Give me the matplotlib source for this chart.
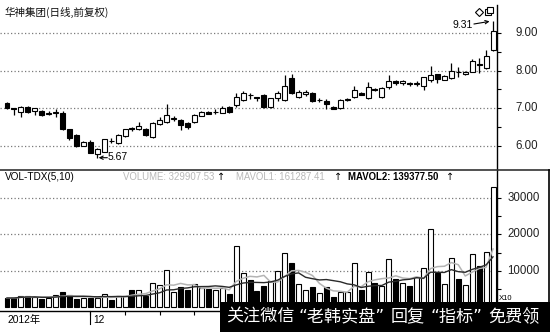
import matplotlib
matplotlib.use('Agg')
import matplotlib.pyplot as plt
import numpy as np
import pandas as pd
from matplotlib.lines import Line2D
from matplotlib.patches import Rectangle
import matplotlib.transforms as mtransforms

plt.rcParams['font.family'] = ['Liberation Sans', 'Noto Sans CJK SC', 'DejaVu Sans']

# ---------------- data ----------------
opens = [7.14, 6.99, 6.90, 7.03, 6.92, 6.92, 6.83, 6.88, 6.88, 6.43,
         6.28, 6.00, 6.10, 5.77, 5.84, 6.13, 6.07, 6.25, 6.47, 6.45,
         6.45, 6.22, 6.57, 6.63, 6.72, 6.68, 6.60, 6.63, 6.80, 6.90,
         6.89, 6.88, 7.03, 7.08, 7.21, 7.35, 7.28, 7.35, 7.03, 7.27,
         7.21, 7.80, 7.30, 7.38, 7.40, 7.21, 7.20, 7.03, 7.00, 7.21,
         7.30, 7.40, 7.26, 7.52, 7.30, 7.55, 7.72, 7.66, 7.68, 7.65,
         7.58, 7.75, 7.90, 7.76, 7.80, 7.96, 7.90, 7.97, 8.16, 8.08,
         8.55]
highs = [7.17, 7.00, 7.05, 7.06, 7.00, 6.94, 6.92, 6.98, 6.92, 6.45,
         6.31, 6.11, 6.15, 5.93, 6.18, 6.20, 6.30, 6.45, 6.50, 6.63,
         6.48, 6.62, 6.75, 7.10, 6.80, 6.70, 6.62, 6.83, 6.93, 6.93,
         6.97, 7.06, 7.05, 7.40, 7.45, 7.40, 7.29, 7.37, 7.28, 7.45,
         7.88, 7.92, 7.47, 7.48, 7.42, 7.28, 7.25, 7.05, 7.24, 7.26,
         7.60, 7.42, 7.70, 7.54, 7.56, 7.87, 7.76, 7.76, 7.70, 7.72,
         7.84, 8.12, 7.92, 7.87, 8.20, 8.10, 7.99, 8.30, 8.33, 8.55,
         9.31]
lows = [6.98, 6.81, 6.75, 6.88, 6.82, 6.80, 6.82, 6.77, 6.42, 6.14,
        5.97, 5.98, 5.80, 5.67, 5.82, 6.07, 6.05, 6.23, 6.40, 6.42,
        6.25, 6.20, 6.55, 6.60, 6.65, 6.41, 6.45, 6.60, 6.78, 6.83,
        6.85, 6.86, 6.88, 7.04, 7.18, 7.25, 7.20, 7.01, 7.01, 7.20,
        7.18, 7.37, 7.28, 7.33, 7.15, 7.15, 6.98, 6.97, 6.98, 7.18,
        7.28, 7.34, 7.24, 7.45, 7.28, 7.50, 7.62, 7.62, 7.60, 7.60,
        7.48, 7.70, 7.68, 7.74, 7.78, 7.82, 7.88, 7.95, 7.93, 8.05,
        8.52]
closes = [7.00, 6.97, 7.03, 6.90, 6.99, 6.81, 6.88, 6.89, 6.43, 6.19,
          5.99, 6.10, 5.81, 5.91, 6.17, 6.12, 6.28, 6.43, 6.43, 6.52,
          6.27, 6.60, 6.67, 6.81, 6.74, 6.55, 6.50, 6.81, 6.90, 6.85,
          6.90, 7.01, 6.90, 7.30, 7.39, 7.34, 7.27, 7.03, 7.26, 7.39,
          7.59, 7.40, 7.43, 7.43, 7.20, 7.22, 7.10, 6.98, 7.22, 7.23,
          7.48, 7.36, 7.55, 7.47, 7.53, 7.73, 7.66, 7.73, 7.64, 7.66,
          7.82, 7.88, 7.77, 7.85, 8.00, 7.95, 7.97, 8.25, 8.15, 8.40,
          9.05]
volumes = [2600, 2600, 3150, 3150, 3000, 2300, 2700, 3400, 4200, 3400,
           2300, 2700, 2700, 2700, 3700, 2000, 3200, 3200, 4800, 4800,
           3150, 6700, 6200, 10300, 4200, 5600, 4700, 6400, 5300, 5000,
           4800, 5300, 3700, 16800, 9400, 7500, 4500, 5800, 7300, 10000,
           14900, 12200, 6400, 4800, 5500, 4100, 5600, 2800, 4200, 4200,
           12300, 4900, 9700, 6800, 5800, 13300, 7800, 6700, 5900, 8400,
           10800, 21500, 9400, 6400, 13500, 7800, 6100, 14600, 11400, 15100,
           32990]
price_ticks = [6.0, 7.0, 8.0, 9.0]
vol_ticks = [10000, 20000, 30000]
date_labels = ["2012年", "12"]
title = "华神集团(日线,前复权)"
legend_items = ["VOL-TDX(5,10)", "VOLUME: 329907.53", "MAVOL1: 161287.41", "MAVOL2: 139377.50"]
high_label = "9.31"
low_label = "5.67"
watermark_parts = ["关注微信", "“老韩实盘”", "回复", "“指标”", "免费领"]

# ---------------- figure ----------------
W, H = 550, 332
fig = plt.figure(figsize=(W / 100, H / 100), dpi=100)
fig.patch.set_facecolor('white')

def fx(px):
    return px / W

def fy(py):
    return 1 - py / H

ax = fig.add_axes([0, fy(170), fx(497), fy(5) - fy(170)])
ax2 = fig.add_axes([0, fy(311), fx(497), fy(170) - fy(311)], sharex=ax)

n = len(opens)
x = np.arange(n)
o = np.array(opens); h = np.array(highs); l = np.array(lows); c = np.array(closes)
up = c >= o

# grid lines (dotted)
grid_kw = dict(color='#7a7a7a', lw=0.9, ls=(0, (1, 1.8)), zorder=0)
for v in price_ticks:
    ax.axhline(v, **grid_kw)
for v in vol_ticks:
    ax2.axhline(v, **grid_kw)

# candles
ax.vlines(x, l, h, color='black', lw=0.9, zorder=2)
body_bottom = np.minimum(o, c)
body_h = np.maximum(np.abs(c - o), 0.012)
ax.bar(x, body_h, bottom=body_bottom, width=0.72,
       color=np.where(up, 'white', 'black'), edgecolor='black', lw=0.8, zorder=3)

ax.set_xlim(-7 / 6.943, 490 / 6.943)
ax.set_ylim(5.347, 9.747)

# volume bars
ax2.bar(x, volumes, width=0.72, color=np.where(up, 'white', 'black'),
        edgecolor='black', lw=0.8, zorder=2)
vs = pd.Series(volumes, dtype=float)
ma5 = vs.rolling(5, min_periods=1).mean()
ma10 = vs.rolling(10, min_periods=1).mean()
ax2.plot(x, ma5, color='#b4b4b4', lw=1.1, zorder=3)
ax2.plot(x, ma10, color='#2a2a2a', lw=1.0, zorder=3)
ax2.set_ylim(-959, 37671)

# spines / ticks
for a in (ax, ax2):
    for s in ('left', 'top'):
        a.spines[s].set_visible(False)
    a.spines['right'].set_linewidth(1.0)
    a.yaxis.tick_right()
    a.tick_params(axis='y', which='both', direction='out', length=3, width=0.8,
                  labelright=False, labelleft=False)
ax.spines['bottom'].set_visible(False)
ax.tick_params(axis='x', bottom=False, labelbottom=False)
ax.set_yticks(price_ticks)
ax.set_yticks([6.5, 7.5, 8.5], minor=True)
ax2.set_yticks(vol_ticks)
ax2.set_yticks([5000, 15000, 25000], minor=True)
ax2.spines['bottom'].set_linewidth(1.0)
ax2.set_xticks([12, 17, 22, 27, 32, 37, 42, 47, 52, 57, 62, 67])
ax2.tick_params(axis='x', direction='out', length=3, width=0.8, labelbottom=False)

# right-hand tick labels
tr1 = mtransforms.blended_transform_factory(fig.transFigure, ax.transData)
for v in price_ticks:
    ax.text(fx(538), v, f"{v:.2f}", transform=tr1, ha='right', va='center',
            fontsize=8.3, color='#222222')
tr2 = mtransforms.blended_transform_factory(fig.transFigure, ax2.transData)
for v in vol_ticks:
    ax2.text(fx(540), v, f"{v}", transform=tr2, ha='right', va='center',
             fontsize=8.3, color='#222222')
fig.text(fx(499), fy(298), "X10", fontsize=5.5, ha='left', va='center')

# panel separators / boxes
fig.add_artist(Line2D([0, 1], [fy(170), fy(170)], transform=fig.transFigure,
                      color='#333333', lw=1.2))
fig.add_artist(Line2D([fx(549), fx(549)], [fy(170), fy(305)], transform=fig.transFigure,
                      color='black', lw=1.2))

# date axis labels
fig.text(fx(7), fy(320), date_labels[0], fontsize=7.4, ha='left', va='center')
fig.text(fx(93), fy(320), date_labels[1], fontsize=7.4, ha='left', va='center')
fig.add_artist(Line2D([fx(90.3), fx(90.3)], [fy(311), fy(324)], transform=fig.transFigure,
                      color='black', lw=0.8))

# title
fig.text(fx(5), fy(12.5), title, fontsize=7.6, ha='left', va='center',
         family=['Noto Sans CJK SC', 'DejaVu Sans'], color='#111111')

# volume legend row
ly = fy(177)
fs_leg = 6.9
fig.text(fx(5), ly, legend_items[0], fontsize=7.2, ha='left', va='center', color='black')
fig.text(fx(123), ly, legend_items[1], fontsize=fs_leg, ha='left', va='center', color='#b8b8b8')
fig.text(fx(217), ly, "↑", fontsize=7.0, ha='left', va='center', color='black',
         family=['DejaVu Sans'])
fig.text(fx(236), ly, legend_items[2], fontsize=fs_leg, ha='left', va='center', color='#b8b8b8')
fig.text(fx(334), ly, "↑", fontsize=7.0, ha='left', va='center', color='black',
         family=['DejaVu Sans'])
fig.text(fx(348), ly, legend_items[3], fontsize=6.9, ha='left', va='center', color='black',
         weight='bold')
fig.text(fx(446), ly, "↑", fontsize=7.0, ha='left', va='center', color='black',
         family=['DejaVu Sans'])

# high / low annotations
imax = int(np.argmax(h))
imin = int(np.argmin(l))
ax.text(imax - 2.95, 9.215, high_label, fontsize=7.5, ha='right', va='center')
ax.annotate('', xy=(imax - 0.5, h[imax]), xytext=(imax - 2.75, 9.24),
            arrowprops=dict(arrowstyle='->', lw=0.8, color='black',
                            shrinkA=0, shrinkB=0, mutation_scale=6))
ax.text(imin + 1.55, 5.705, low_label, fontsize=7.5, ha='left', va='center')
ax.annotate('', xy=(imin + 0.2, 5.675), xytext=(imin + 1.45, 5.675),
            arrowprops=dict(arrowstyle='->', lw=0.8, color='black',
                            shrinkA=0, shrinkB=0, mutation_scale=6))

# small icons at top right
fig.add_artist(Line2D([fx(478.5)], [fy(11.5)], transform=fig.transFigure, marker='D',
                      ms=4.2, mfc='white', mec='black', mew=0.8, ls='none'))
fig.add_artist(Line2D([fx(488)], [fy(12)], transform=fig.transFigure, marker='s',
                      ms=5, mfc='white', mec='black', mew=0.8, ls='none'))
fig.add_artist(Line2D([fx(490)], [fy(10)], transform=fig.transFigure, marker='s',
                      ms=5, mfc='white', mec='black', mew=0.8, ls='none'))

# watermark banner
fig.add_artist(Rectangle((fx(220), 0), 1 - fx(220), fy(302), transform=fig.transFigure,
                         facecolor='black', edgecolor='none', zorder=20))
wm_x = [226, 298, 391, 430, 488]
for px, part in zip(wm_x, watermark_parts):
    fig.text(fx(px), fy(317), part, fontsize=12.3, color='white', ha='left', va='center',
             family=['DejaVu Sans', 'Noto Sans CJK SC'], zorder=21)

fig.savefig('out.png', dpi=100, facecolor='white')
